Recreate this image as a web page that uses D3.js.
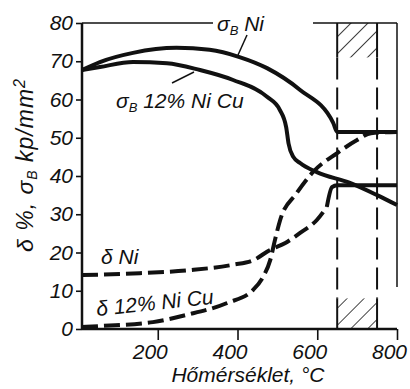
<!DOCTYPE html>
<html>
<head>
<meta charset="utf-8">
<script src="https://cdn.jsdelivr.net/npm/d3@7/dist/d3.min.js"></script>
<style>
body { margin: 0; background: #fff; }
text { font-family: "Liberation Sans Narrow", "Liberation Sans", Arial, sans-serif; font-style: italic; fill: #111; }
</style>
</head>
<body>
<svg id="chart" width="410" height="389"></svg>
<script>
// values (temperature in degC, value in % or kp/mm2)
var sigmaNiT = [10, 55, 138, 247, 330, 405, 474, 557, 640, 650, 800];
var sigmaNiV = [67.7, 69.8, 72.2, 73.5, 73, 71.1, 68.2, 62.5, 53.9, 51.5, 51.5];

var sigmaCuT = [10, 55, 138, 223, 306, 389, 474, 506, 522, 528, 540, 557, 599, 682, 750, 800];
var sigmaCuV = [67.7, 68.5, 69.8, 69.5, 67.7, 65.1, 60.7, 57.3, 52.8, 48.5, 45, 43.4, 41, 38.2, 35, 32.4];

var deltaNiT = [10, 155, 281, 389, 440, 482, 520, 557, 599, 624, 637, 650, 800];
var deltaNiV = [14.1, 14.6, 15.4, 16.8, 18, 20.7, 22.5, 25.1, 28.5, 31.9, 37.1, 37.6, 37.6];

var deltaCuT = [10, 60, 188, 273, 374, 439, 464, 482, 494, 507, 549, 589, 650, 700, 735, 800];
var deltaCuV = [0.5, 0.8, 1.8, 3.7, 6.8, 10.2, 13.6, 18, 23.3, 28.5, 35.6, 41, 46, 49.4, 51.2, 51.5];

var xTicks = [200, 400, 600, 800];
var yTicks = [0, 10, 20, 30, 40, 50, 60, 70, 80];
var hatchT = [650, 750];          // shaded temperature band
var hatchTop = [71, 80];          // upper hatched box
var hatchBottom = [0, 8];         // lower hatched box

var svg = d3.select("#chart");
var x = d3.scaleLinear().domain([10, 800]).range([82, 397]);
var y = d3.scaleLinear().domain([0, 80]).range([329, 23]);

var zip = function(ts, vs) {
  return ts.map(function(t, i) { return [t, vs[i]]; });
};

// hatch pattern
svg.append("defs").append("pattern")
  .attr("id", "hatch")
  .attr("patternUnits", "userSpaceOnUse")
  .attr("width", 12).attr("height", 12)
  .attr("patternTransform", "rotate(45)")
  .append("line")
  .attr("x1", 0).attr("y1", 0).attr("x2", 0).attr("y2", 12)
  .attr("stroke", "#111").attr("stroke-width", 1.6);

[hatchTop, hatchBottom].forEach(function(b) {
  svg.append("rect")
    .attr("x", x(hatchT[0])).attr("y", y(b[1]))
    .attr("width", x(hatchT[1]) - x(hatchT[0]))
    .attr("height", y(b[0]) - y(b[1]))
    .attr("fill", "url(#hatch)");
  hatchT.forEach(function(t) {
    svg.append("line")
      .attr("x1", x(t)).attr("x2", x(t))
      .attr("y1", y(b[1])).attr("y2", y(b[0]))
      .attr("stroke", "#111").attr("stroke-width", 2);
  });
});
hatchT.forEach(function(t) {
  svg.append("line")
    .attr("x1", x(t)).attr("x2", x(t))
    .attr("y1", y(hatchTop[0])).attr("y2", y(hatchBottom[1]))
    .attr("stroke", "#111").attr("stroke-width", 2)
    .attr("stroke-dasharray", "22,8");
});

// frame
var frame = svg.append("g").attr("stroke", "#111").attr("fill", "none");
frame.append("line").attr("x1", x(10)).attr("x2", x(10)).attr("y1", y(80)).attr("y2", y(0)).attr("stroke-width", 2.5);
frame.append("line").attr("x1", x(10)).attr("x2", x(800)).attr("y1", y(0)).attr("y2", y(0)).attr("stroke-width", 2.5);
frame.append("line").attr("x1", x(10)).attr("x2", 213).attr("y1", y(80)).attr("y2", y(80)).attr("stroke-width", 1.5);
frame.append("line").attr("x1", 313).attr("x2", x(800)).attr("y1", y(80)).attr("y2", y(80)).attr("stroke-width", 1.5);
frame.append("line").attr("x1", x(800)).attr("x2", x(800)).attr("y1", y(80)).attr("y2", y(11)).attr("stroke-width", 1.5);

// axes
var yAxis = svg.append("g")
  .attr("transform", "translate(" + x(10) + ",0)")
  .call(d3.axisLeft(y).tickValues(yTicks).tickSize(6).tickPadding(3));
var xAxis = svg.append("g")
  .attr("transform", "translate(0," + y(0) + ")")
  .call(d3.axisBottom(x).tickValues(xTicks).tickSize(11).tickPadding(4));
[yAxis, xAxis].forEach(function(a) {
  a.select(".domain").remove();
  a.selectAll("line").attr("stroke", "#111").attr("stroke-width", 1.6);
  a.selectAll("text").attr("font-size", 21).attr("fill", "#111");
  a.attr("font-family", null);
});
xAxis.selectAll("text").attr("dx", -8);

// curves
var line = d3.line()
  .x(function(d) { return x(d[0]); })
  .y(function(d) { return y(d[1]); })
  .curve(d3.curveMonotoneX);

var drawCurve = function(pts, dashed) {
  svg.append("path")
    .attr("d", line(pts))
    .attr("fill", "none")
    .attr("stroke", "#111")
    .attr("stroke-width", 4)
    .attr("stroke-dasharray", dashed ? "16,6" : null);
};

drawCurve(zip(sigmaNiT, sigmaNiV), false);
drawCurve(zip(sigmaCuT, sigmaCuV), false);
var dNi = zip(deltaNiT, deltaNiV);
drawCurve(dNi.filter(function(d) { return d[0] <= 624; }), true);
drawCurve(dNi.filter(function(d) { return d[0] >= 624; }), false);
drawCurve(zip(deltaCuT, deltaCuV), true);

// labels
var label = function(px, py, main, sub, rest, size, rot) {
  var t = svg.append("text")
    .attr("transform", "translate(" + px + "," + py + ")" + (rot ? " rotate(" + rot + ")" : ""))
    .attr("font-size", size);
  t.append("tspan").text(main);
  if (sub) t.append("tspan").attr("dy", 4).attr("font-size", size * 0.62).text(sub);
  if (rest) t.append("tspan").attr("dy", sub ? -4 : 0).text(rest);
  return t;
};

label(217, 31, "σ", "B", " Ni", 21);
label(116, 108, "σ", "B", " 12% Ni Cu", 21);
label(101, 264, "δ Ni", null, null, 21);
label(97, 316, "δ 12% Ni Cu", null, null, 21, -6);

svg.append("line").attr("x1", 247).attr("y1", 35).attr("x2", 238).attr("y2", 55)
  .attr("stroke", "#111").attr("stroke-width", 1.5);
svg.append("line").attr("x1", 172).attr("y1", 83).attr("x2", 194).attr("y2", 72)
  .attr("stroke", "#111").attr("stroke-width", 1.5);

svg.append("text")
  .attr("x", 248).attr("y", 382)
  .attr("text-anchor", "middle")
  .attr("font-size", 21)
  .text("Hőmérséklet, °C");

var yl = svg.append("text")
  .attr("transform", "translate(33,165) rotate(-90)")
  .attr("text-anchor", "middle")
  .attr("font-size", 23)
  .attr("letter-spacing", 1);
yl.append("tspan").text("δ %, σ");
yl.append("tspan").attr("dy", 4).attr("font-size", 14).text("B");
yl.append("tspan").attr("dy", -4).text(" kp/mm");
yl.append("tspan").attr("dy", -8).attr("font-size", 16).text("2");
</script>
</body>
</html>
